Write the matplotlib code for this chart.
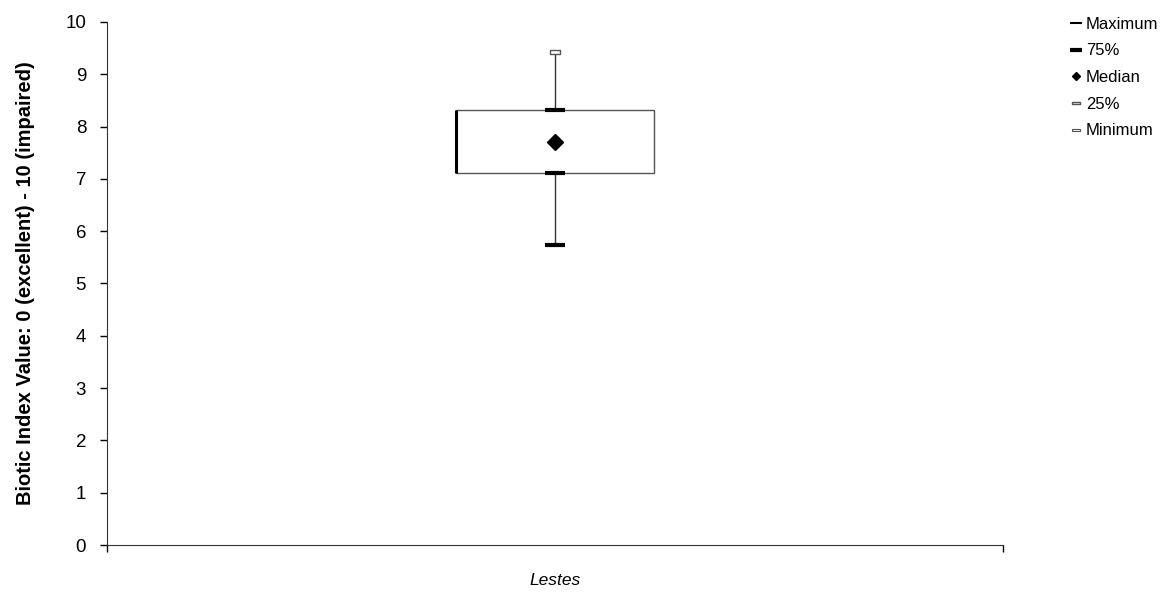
import numpy as np
import matplotlib
matplotlib.use("Agg")
import matplotlib.pyplot as plt
from matplotlib.lines import Line2D
from matplotlib.patches import Rectangle
from matplotlib.path import Path

plt.rcParams['font.family'] = ['Liberation Sans', 'DejaVu Sans']

# data
categories = ['Lestes']
maximum = [9.42]
q75 = [8.32]
median = [7.70]
q25 = [7.12]
minimum = [5.74]
legend_labels = ['Maximum', '75%', 'Median', '25%', 'Minimum']

fig = plt.figure(figsize=(11.67, 5.93), dpi=100)
ax = fig.add_axes([0.0917, 0.0809, 0.7678, 0.8821])

# hollow dash marker (like excel's outlined dash)
hollow = Path([(-1, -0.35), (1, -0.35), (1, 0.35), (-1, 0.35), (-1, -0.35)],
              [Path.MOVETO, Path.LINETO, Path.LINETO, Path.LINETO, Path.CLOSEPOLY])

box_w = 0.222
for i, cat in enumerate(categories):
    x = 0.5 + i
    # box
    ax.add_patch(Rectangle((x - box_w / 2, q25[i]), box_w, q75[i] - q25[i],
                           facecolor='white', edgecolor='#555555', lw=1.0, zorder=2))
    ax.plot([x - box_w / 2, x - box_w / 2], [q25[i], q75[i]], color='black', lw=2.2, zorder=3,
            solid_capstyle='butt')
    # whiskers
    ax.plot([x, x], [q75[i], maximum[i]], color='#333333', lw=1.0, zorder=3)
    ax.plot([x, x], [minimum[i], q25[i]], color='#333333', lw=1.0, zorder=3)
    # caps
    ax.plot([x], [maximum[i]], marker=hollow, ms=7, mfc='white', mec='#555555', mew=1.0, zorder=4)
    for v in (q75[i], q25[i], minimum[i]):
        ax.plot([x], [v], marker='_', ms=14, mew=3.0, color='black', zorder=4)
    ax.plot([x], [median[i]], marker='D', ms=8.5, color='black', zorder=5)

ax.set_xlim(0, len(categories))
ax.set_ylim(0, 10)
ax.set_yticks(np.arange(0, 11, 1))
ax.set_xticks([0.5 + i for i in range(len(categories))])
ax.set_xticklabels(categories, fontstyle='italic', fontsize=12.5)
ax.tick_params(axis='x', length=0, pad=20)
ax.tick_params(axis='y', length=5, width=1.0, labelsize=13.5, pad=10, direction='out')
ax.set_xticks([0, len(categories)], minor=True)
ax.tick_params(axis='x', which='minor', length=5, width=1.0, direction='out')
for s in ('top', 'right'):
    ax.spines[s].set_visible(False)
ax.spines['left'].set_color('#333333')
ax.spines['bottom'].set_color('#333333')

ax.set_ylabel('Biotic Index Value: 0 (excellent) - 10 (impaired)',
              fontsize=14.5, fontweight='bold', labelpad=12)
ax.yaxis.set_label_coords(-0.08, 0.5)

handles = [
    Line2D([], [], ls='none', marker='_', ms=9, mew=1.5, color='black'),
    Line2D([], [], ls='none', marker='_', ms=9, mew=3.0, color='black'),
    Line2D([], [], ls='none', marker='D', ms=4.5, color='black'),
    Line2D([], [], ls='none', marker=hollow, ms=6, mfc='white', mec='#555555', mew=1.0),
    Line2D([], [], ls='none', marker=hollow, ms=6, mfc='white', mec='#555555', mew=0.8),
]
fig.legend(handles, legend_labels, loc='upper left', bbox_to_anchor=(0.912, 0.983),
           frameon=False, fontsize=12, handlelength=0.6, handletextpad=0.3,
           labelspacing=0.7, borderaxespad=0)

fig.savefig('out.png', dpi=100)
